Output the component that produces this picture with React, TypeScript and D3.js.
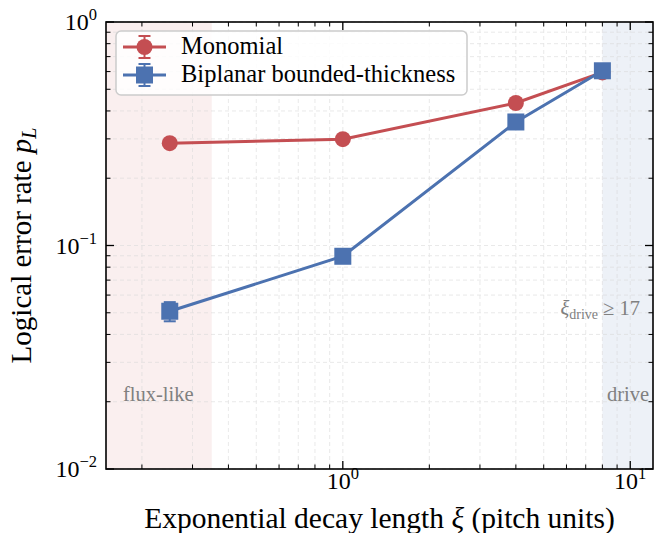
import * as d3 from "d3";

// Data
const xiValues = [0.25, 1, 4, 8];
const monomialRate = [0.287, 0.299, 0.434, 0.595];
const monomialErr = [0.004, 0.004, 0.005, 0.005];
const biplanarRate = [0.0508, 0.0895, 0.357, 0.605];
const biplanarErr = [0.005, 0.003, 0.005, 0.005];

const xDomain = [0.15, 12];
const yDomain = [0.01, 1];
const fluxRegion = [0.15, 0.35];
const driveRegion = [8, 12];
const xMajorTicks = [1, 10];
const yMajorTicks = [0.01, 0.1, 1];

const RED = "#c44e52";
const BLUE = "#4c72b0";
const FONT = "'Liberation Serif', 'DejaVu Serif', serif";

const width = 665;
const height = 533;
const margin = { top: 22, right: 12, bottom: 64, left: 106 };

const expOf = (v: number) => {
  const e = Math.round(Math.log10(v));
  return e < 0 ? `\u2212${-e}` : `${e}`;
};

export default function App() {
  const x = d3
    .scaleLog()
    .domain(xDomain)
    .range([margin.left, width - margin.right]);
  const y = d3
    .scaleLog()
    .domain(yDomain)
    .range([height - margin.bottom, margin.top]);

  const [x0, x1] = x.range();
  const [y0, y1] = y.range(); // y0 bottom, y1 top

  const xMinor = x.ticks().filter((t) => !xMajorTicks.some((m) => Math.abs(m - t) < 1e-9));
  const yMinor = y.ticks().filter((t) => !yMajorTicks.some((m) => Math.abs(m - t) < 1e-9));
  const xAll = x.ticks();
  const yAll = y.ticks();

  const line = d3
    .line<number>()
    .x((_, i) => x(xiValues[i]))
    .y((d) => y(d));

  const errBars = (vals: number[], errs: number[], color: string) =>
    vals.map((v, i) => {
      const cx = x(xiValues[i]);
      const top = y(v + errs[i]);
      const bot = y(v - errs[i]);
      return (
        <g key={i} stroke={color} strokeWidth={2}>
          <line x1={cx} x2={cx} y1={top} y2={bot} />
          <line x1={cx - 6} x2={cx + 6} y1={top} y2={top} />
          <line x1={cx - 6} x2={cx + 6} y1={bot} y2={bot} />
        </g>
      );
    });

  const majorLen = 8;
  const minorLen = 4.5;

  return (
    <svg
      width={width}
      height={height}
      style={{ position: "absolute", left: 0, top: 0, background: "#fff" }}
      fontFamily={FONT}
    >
      <defs>
        <clipPath id="plot-clip">
          <rect x={x0} y={y1} width={x1 - x0} height={y0 - y1} />
        </clipPath>
      </defs>

      {/* shaded regimes */}
      <rect
        x={x(fluxRegion[0])}
        y={y1}
        width={x(fluxRegion[1]) - x(fluxRegion[0])}
        height={y0 - y1}
        fill={RED}
        opacity={0.09}
      />
      <rect
        x={x(driveRegion[0])}
        y={y1}
        width={x(driveRegion[1]) - x(driveRegion[0])}
        height={y0 - y1}
        fill={BLUE}
        opacity={0.1}
      />

      {/* grid */}
      <g stroke="#d9d9d9" strokeWidth={0.8} strokeDasharray="4,3" opacity={0.7}>
        {xAll.map((t, i) => (
          <line key={`gx${i}`} x1={x(t)} x2={x(t)} y1={y1} y2={y0} />
        ))}
        {yAll.map((t, i) => (
          <line key={`gy${i}`} x1={x0} x2={x1} y1={y(t)} y2={y(t)} />
        ))}
      </g>

      {/* annotations */}
      <g fill="#808080" fontSize={20.5}>
        <text x={123} y={401}>flux-like</text>
        <text x={x1 - 4} y={401} textAnchor="end">drive</text>
        <text x={x1 - 13} y={315} textAnchor="end">
          <tspan fontStyle="italic">ξ</tspan>
          <tspan fontSize={14} dy={4}>drive</tspan>
          <tspan dy={-4}> ≥ 17</tspan>
        </text>
      </g>

      {/* series */}
      <g clipPath="url(#plot-clip)">
        <path d={line(monomialRate) ?? ""} fill="none" stroke={RED} strokeWidth={3} />
        {errBars(monomialRate, monomialErr, RED)}
        {monomialRate.map((v, i) => (
          <circle key={i} cx={x(xiValues[i])} cy={y(v)} r={8} fill={RED} />
        ))}
        <path d={line(biplanarRate) ?? ""} fill="none" stroke={BLUE} strokeWidth={3} />
        {errBars(biplanarRate, biplanarErr, BLUE)}
        {biplanarRate.map((v, i) => (
          <rect key={i} x={x(xiValues[i]) - 8.5} y={y(v) - 8.5} width={17} height={17} fill={BLUE} />
        ))}
      </g>

      {/* ticks, inward on all four sides */}
      <g stroke="#000">
        {xMajorTicks.map((t, i) => (
          <g key={`xM${i}`} strokeWidth={1.3}>
            <line x1={x(t)} x2={x(t)} y1={y0} y2={y0 - majorLen} />
            <line x1={x(t)} x2={x(t)} y1={y1} y2={y1 + majorLen} />
          </g>
        ))}
        {xMinor.map((t, i) => (
          <g key={`xm${i}`} strokeWidth={1}>
            <line x1={x(t)} x2={x(t)} y1={y0} y2={y0 - minorLen} />
            <line x1={x(t)} x2={x(t)} y1={y1} y2={y1 + minorLen} />
          </g>
        ))}
        {yMajorTicks.map((t, i) => (
          <g key={`yM${i}`} strokeWidth={1.3}>
            <line x1={x0} x2={x0 + majorLen} y1={y(t)} y2={y(t)} />
            <line x1={x1} x2={x1 - majorLen} y1={y(t)} y2={y(t)} />
          </g>
        ))}
        {yMinor.map((t, i) => (
          <g key={`ym${i}`} strokeWidth={1}>
            <line x1={x0} x2={x0 + minorLen} y1={y(t)} y2={y(t)} />
            <line x1={x1} x2={x1 - minorLen} y1={y(t)} y2={y(t)} />
          </g>
        ))}
      </g>

      {/* frame */}
      <rect x={x0} y={y1} width={x1 - x0} height={y0 - y1} fill="none" stroke="#000" strokeWidth={1.6} />

      {/* tick labels */}
      <g fill="#000" fontSize={24}>
        {xMajorTicks.map((t, i) => (
          <text key={`xl${i}`} x={x(t)} y={y0 + 20} textAnchor="middle">
            10<tspan fontSize={16.5} dy={-10}>{expOf(t)}</tspan>
          </text>
        ))}
        {yMajorTicks.map((t, i) => (
          <text key={`yl${i}`} x={x0 - 9} y={y(t) + 8} textAnchor="end">
            10<tspan fontSize={16.5} dy={-10}>{expOf(t)}</tspan>
          </text>
        ))}
      </g>

      {/* axis labels */}
      <text x={(x0 + x1) / 2} y={528} textAnchor="middle" fontSize={29.5}>
        Exponential decay length <tspan fontStyle="italic">ξ</tspan> (pitch units)
      </text>
      <text
        transform={`translate(31,${(y0 + y1) / 2}) rotate(-90)`}
        textAnchor="middle"
        fontSize={29}
      >
        Logical error rate <tspan fontStyle="italic">p</tspan>
        <tspan fontStyle="italic" fontSize={20} dy={5}>L</tspan>
      </text>

      {/* legend */}
      <g>
        <rect x={116} y={31} width={351} height={64} rx={5} fill="#fff" fillOpacity={0.85} stroke="#cccccc" strokeWidth={1.5} />
        <g stroke={RED} strokeWidth={3}>
          <line x1={123} x2={166} y1={47} y2={47} />
          <line x1={144.5} x2={144.5} y1={36} y2={58} strokeWidth={2} />
          <line x1={138.5} x2={150.5} y1={36} y2={36} strokeWidth={2} />
          <line x1={138.5} x2={150.5} y1={58} y2={58} strokeWidth={2} />
        </g>
        <circle cx={144.5} cy={47} r={8} fill={RED} />
        <g stroke={BLUE} strokeWidth={3}>
          <line x1={123} x2={166} y1={75} y2={75} />
          <line x1={144.5} x2={144.5} y1={64} y2={86} strokeWidth={2} />
          <line x1={138.5} x2={150.5} y1={64} y2={64} strokeWidth={2} />
          <line x1={138.5} x2={150.5} y1={86} y2={86} strokeWidth={2} />
        </g>
        <rect x={136} y={66.5} width={17} height={17} fill={BLUE} />
        <text x={181} y={54} fontSize={24.5}>Monomial</text>
        <text x={181} y={82} fontSize={24.5}>Biplanar bounded-thickness</text>
      </g>
    </svg>
  );
}
